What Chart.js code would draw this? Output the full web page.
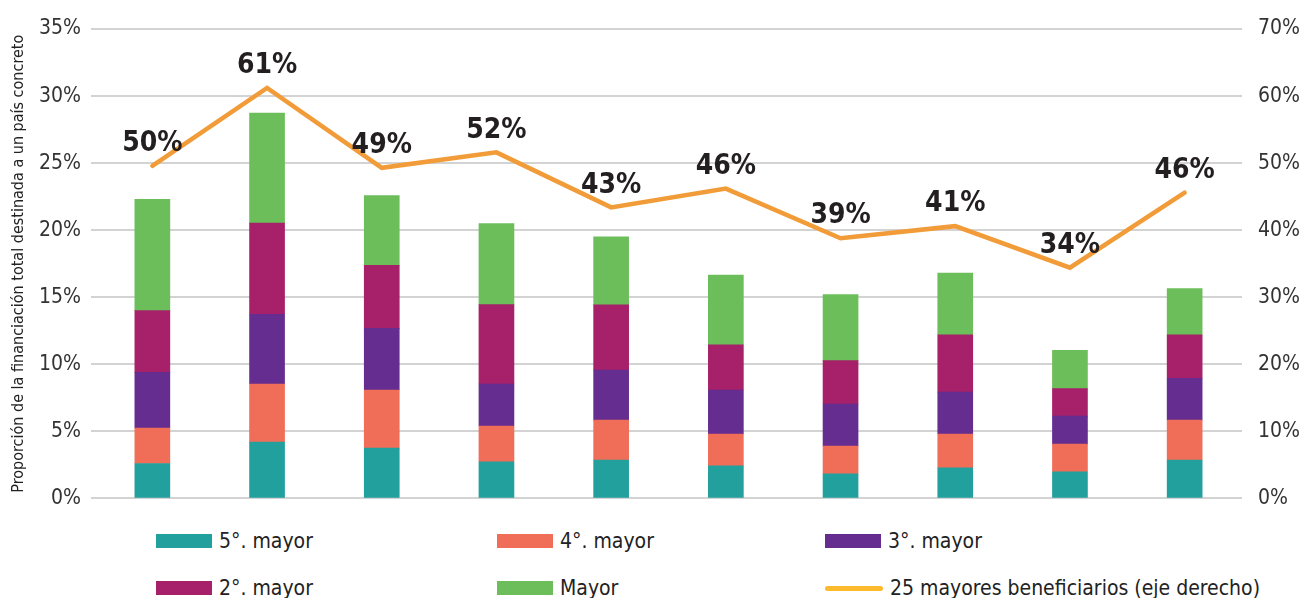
<!DOCTYPE html>
<html>
<head>
<meta charset="utf-8">
<script src="https://cdn.jsdelivr.net/npm/chart.js@4.4.1/dist/chart.umd.min.js"></script>
<style>
  body { margin: 0; background: #fff; width: 1311px; height: 598px; overflow: hidden; position: relative; }
  #wrap { position: absolute; left: 0; top: 0; width: 1311px; height: 521px; }
  #legend { position: absolute; left: 156px; top: 527px; display: grid; grid-template-columns: 341px 328px auto; row-gap: 19px;
    font-family: 'Liberation Sans Narrow', 'DejaVu Sans Condensed', sans-serif; font-size: 21px; color: #222; }
  .item { display: flex; align-items: center; height: 28px; }
  .box { width: 56px; height: 14px; margin-right: 7px; }
  .ln { width: 58px; height: 5px; border-radius: 3px; margin-right: 7px; }
</style>
</head>
<body>
<div id="wrap"><canvas id="chart" width="1311" height="521"></canvas></div>
<div id="legend"></div>
<script>
const FONT = "'Liberation Sans Narrow', 'DejaVu Sans Condensed', sans-serif";

const categories = ['1', '2', '3', '4', '5', '6', '7', '8', '9', '10'];
const quinto = [2.6, 4.2, 3.75, 2.73, 2.86, 2.43, 1.84, 2.28, 1.99, 2.86];
const cuarto = [2.65, 4.33, 4.33, 2.67, 2.98, 2.37, 2.06, 2.52, 2.06, 2.98];
const tercero = [4.15, 5.2, 4.6, 3.13, 3.73, 3.28, 3.14, 3.13, 2.09, 3.12];
const segundo = [4.6, 6.8, 4.7, 5.92, 4.86, 3.38, 3.23, 4.27, 2.04, 3.24];
const mayor = [8.3, 8.2, 5.2, 6.05, 5.07, 5.2, 4.93, 4.6, 2.86, 3.44];
const top25 = [49.6, 61.2, 49.3, 51.6, 43.4, 46.2, 38.8, 40.6, 34.4, 45.6];
const leftTicks = [0, 5, 10, 15, 20, 25, 30, 35];
const rightTicks = [0, 10, 20, 30, 40, 50, 60, 70];

const barSeries = [
    { label: '5°. mayor', data: quinto, color: '#22A09E' },
    { label: '4°. mayor', data: cuarto, color: '#F06E58' },
    { label: '3°. mayor', data: tercero, color: '#652D90' },
    { label: '2°. mayor', data: segundo, color: '#A6206A' },
    { label: 'Mayor', data: mayor, color: '#6BBE5A' }
];
const lineLabel = '25 mayores beneficiarios (eje derecho)';

// etiquetas de la linea
const lineLabelsPlugin = {
    id: 'lineLabels',
    afterDatasetsDraw(chart) {
        const meta = chart.getDatasetMeta(5);
        const ctx = chart.ctx;
        ctx.save();
        ctx.font = "bold 28px " + FONT;
        ctx.fillStyle = '#231F20';
        ctx.textAlign = 'center';
        ctx.textBaseline = 'bottom';
        meta.data.forEach((pt, i) => {
            ctx.fillText(Math.round(top25[i]) + '%', pt.x, pt.y - 8);
        });
        ctx.restore();
    }
};

const datasets = barSeries.map(s => ({
    type: 'bar',
    label: s.label,
    data: s.data,
    backgroundColor: s.color,
    borderWidth: 0,
    barThickness: 35,
    yAxisID: 'y',
    order: 2
}));
datasets.push({
    type: 'line',
    label: lineLabel,
    data: top25,
    borderColor: '#F19C38',
    borderWidth: 4.5,
    borderCapStyle: 'round',
    borderJoinStyle: 'miter',
    pointRadius: 0,
    tension: 0,
    yAxisID: 'y1',
    order: 1
});

new Chart(document.getElementById('chart'), {
    data: { labels: categories, datasets: datasets },
    plugins: [lineLabelsPlugin],
    options: {
        responsive: false,
        animation: false,
        layout: { padding: { top: 29, bottom: 0 } },
        plugins: { legend: { display: false }, tooltip: { enabled: false } },
        scales: {
            x: {
                stacked: true,
                ticks: { display: false },
                grid: { display: false },
                border: { display: false },
                afterFit: s => { s.height = 5; }
            },
            y: {
                stacked: true,
                min: 0, max: 35,
                afterBuildTicks: s => { s.ticks = leftTicks.map(v => ({ value: v })); },
                ticks: { callback: v => v + '%', color: '#333', font: { family: FONT, size: 21 }, padding: 10 },
                grid: { color: '#D3D3D3', lineWidth: 2, tickLength: 4, tickColor: '#D3D3D3' },
                border: { display: false },
                title: { display: true, text: 'Proporción de la financiación total destinada a un país concreto',
                    color: '#222', font: { family: FONT, size: 16 }, padding: { top: 9, bottom: 0 } },
                afterFit: s => { s.width = 95; }
            },
            y1: {
                position: 'right',
                min: 0, max: 70,
                afterBuildTicks: s => { s.ticks = rightTicks.map(v => ({ value: v })); },
                ticks: { callback: v => v + '%', color: '#333', font: { family: FONT, size: 21 }, padding: 8 },
                grid: { display: false },
                border: { display: false },
                afterFit: s => { s.width = 69; }
            }
        }
    }
});

// leyenda
const legend = document.getElementById('legend');
barSeries.forEach(s => {
    legend.innerHTML += `<div class="item"><span class="box" style="background:${s.color}"></span>${s.label}</div>`;
});
legend.innerHTML += `<div class="item"><span class="ln" style="background:#FDBA2C"></span>${lineLabel}</div>`;
</script>
</body>
</html>
